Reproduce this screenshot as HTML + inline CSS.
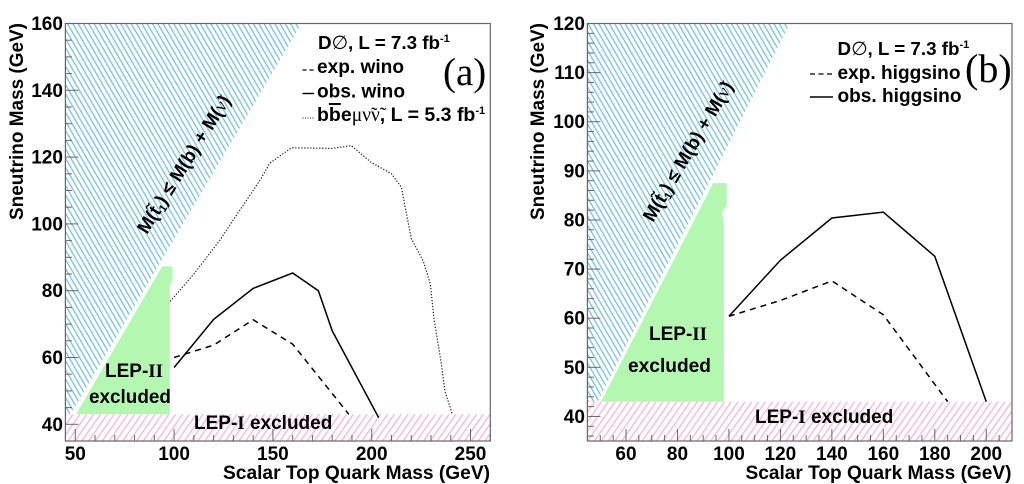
<!DOCTYPE html>
<html lang="en">
<head>
<meta charset="utf-8">
<title>Sneutrino vs scalar top quark mass exclusion limits</title>
<style>
html,body{margin:0;padding:0;background:#fff;width:1024px;height:484px;overflow:hidden}
svg{display:block}
text{font-family:"Liberation Sans",sans-serif;font-weight:bold;fill:#000}
.serif{font-family:"Liberation Serif",serif}
.greek{font-family:"Liberation Serif",serif;font-weight:normal}
</style>
</head>
<body>
<svg id="chart" xmlns="http://www.w3.org/2000/svg" width="1024" height="484" viewBox="0 0 1024 484">
  <defs>
    <pattern id="blue-hatch" patternUnits="userSpaceOnUse" width="4.6" height="10" patternTransform="rotate(-30)">
      <rect x="0" y="0" width="1.25" height="10" fill="#74c0e4"></rect>
    </pattern>
    <pattern id="pink-hatch" patternUnits="userSpaceOnUse" width="5.6" height="10" patternTransform="rotate(35)">
      <rect x="0" y="0" width="1.35" height="10" fill="#fab6dc"></rect>
    </pattern>
  </defs>
  <g id="marks-a"></g>
  <g id="marks-b"></g>

  <!-- Panel (a) text -->
  <text x="223" y="479" font-size="19.5" textLength="267" lengthAdjust="spacingAndGlyphs">Scalar Top Quark Mass (GeV)</text>
  <text transform="translate(23,220) rotate(-90)" font-size="19.5" textLength="197" lengthAdjust="spacingAndGlyphs">Sneutrino Mass (GeV)</text>
  <text x="318" y="49" font-size="18.8">D<tspan class="greek">∅</tspan>, L = 7.3 fb<tspan font-size="11" dy="-7">-1</tspan></text>
  <text x="317" y="73" font-size="19" textLength="87" lengthAdjust="spacingAndGlyphs">exp. wino</text>
  <text x="317" y="97.5" font-size="19" textLength="88" lengthAdjust="spacingAndGlyphs">obs. wino</text>
  <text x="317" y="121" font-size="19.5">b<tspan text-decoration="overline">b</tspan>e<tspan class="greek">μν̃ν̃</tspan>, L = 5.3 fb<tspan font-size="11" dy="-7">-1</tspan></text>
  <text class="serif" style="font-weight:normal" x="443" y="85" font-size="39">(a)</text>
  <text transform="translate(147,235) rotate(-58)" font-size="18.8">M(t̃<tspan font-size="11" dy="3">1</tspan><tspan dy="-3">) ≤ M(b) + M(</tspan><tspan class="greek">ν̃</tspan>)</text>
  <text x="105" y="377" font-size="19">LEP-<tspan class="serif">II</tspan></text>
  <text x="89" y="403" font-size="19" textLength="82" lengthAdjust="spacingAndGlyphs">excluded</text>
  <text x="194" y="429" font-size="19">LEP-<tspan class="serif">I</tspan> excluded</text>

  <!-- Panel (b) text -->
  <text x="745.5" y="479" font-size="19.5" textLength="266" lengthAdjust="spacingAndGlyphs">Scalar Top Quark Mass (GeV)</text>
  <text transform="translate(544,220) rotate(-90)" font-size="19.5" textLength="197" lengthAdjust="spacingAndGlyphs">Sneutrino Mass (GeV)</text>
  <text x="837.5" y="55" font-size="18.8">D<tspan class="greek">∅</tspan>, L = 7.3 fb<tspan font-size="11" dy="-7">-1</tspan></text>
  <text x="837.5" y="79" font-size="19" textLength="123" lengthAdjust="spacingAndGlyphs">exp. higgsino</text>
  <text x="837.5" y="102" font-size="19" textLength="124" lengthAdjust="spacingAndGlyphs">obs. higgsino</text>
  <text class="serif" style="font-weight:normal" x="965" y="82" font-size="40">(b)</text>
  <text transform="translate(653,223) rotate(-59.5)" font-size="18.8">M(t̃<tspan font-size="11" dy="3">1</tspan><tspan dy="-3">) ≤ M(b) + M(</tspan><tspan class="greek">ν̃</tspan>)</text>
  <text x="649" y="340" font-size="19">LEP-<tspan class="serif">II</tspan></text>
  <text x="628" y="372" font-size="19" textLength="83" lengthAdjust="spacingAndGlyphs">excluded</text>
  <text x="755" y="423" font-size="19">LEP-<tspan class="serif">I</tspan> excluded</text>
</svg>

<script>
// Panel (a) data
const aXTicks = [50, 100, 150, 200, 250];
const aXMinor = [50, 60, 70, 80, 90, 100, 110, 120, 130, 140, 150, 160, 170, 180, 190, 200, 210, 220, 230, 240, 250, 260];
const aYTicks = [40, 60, 80, 100, 120, 140, 160];
const aYMinor = [40, 45, 50, 55, 60, 65, 70, 75, 80, 85, 90, 95, 100, 105, 110, 115, 120, 125, 130, 135, 140, 145, 150, 155, 160];
const aObsX = [100, 120, 140, 160, 173, 180, 203.5];
const aObsY = [57, 71.4, 80.7, 85.3, 80, 68, 42];
const aExpX = [100, 120, 140, 160, 188.4];
const aExpY = [60, 63.7, 71.3, 64, 43];
const aDotX = [98, 110, 123, 132, 143.4, 148.5, 159.4, 179.6, 189.7, 199.8, 210, 215, 220, 226, 229.7, 231.4, 235.2, 237, 240.8];
const aDotY = [76.8, 85, 95, 103, 113, 118.2, 122.8, 122.6, 123.4, 118.4, 115, 111, 95.6, 89, 82, 72, 58.2, 50, 43];
const aBlueX = [45, 47.6, 164.5, 45];
const aBlueY = [43, 43, 160, 160];
const aGreenX = [50.4, 94, 99.2, 99.2, 97.8, 97.8];
const aGreenY = [43, 87.3, 87.3, 83, 81.5, 43];

// Panel (b) data
const bXTicks = [60, 80, 100, 120, 140, 160, 180, 200];
const bXMinor = [50, 55, 60, 65, 70, 75, 80, 85, 90, 95, 100, 105, 110, 115, 120, 125, 130, 135, 140, 145, 150, 155, 160, 165, 170, 175, 180, 185, 190, 195, 200, 205];
const bYTicks = [40, 50, 60, 70, 80, 90, 100, 110, 120];
const bYMinor = [36, 38, 40, 42, 44, 46, 48, 50, 52, 54, 56, 58, 60, 62, 64, 66, 68, 70, 72, 74, 76, 78, 80, 82, 84, 86, 88, 90, 92, 94, 96, 98, 100, 102, 104, 106, 108, 110, 112, 114, 116, 118, 120];
const bObsX = [100, 120, 140, 160, 180, 200];
const bObsY = [60.4, 71.8, 80.4, 81.6, 72.6, 43];
const bExpX = [100, 120, 140, 160, 185];
const bExpY = [60.4, 63.6, 67.6, 60.7, 43];
const bBlueX = [45, 49, 123.7, 45];
const bBlueY = [43, 43, 120, 120];
const bGreenX = [50.3, 93.9, 99.1, 99.1, 97.2, 98, 98];
const bGreenY = [43, 87.5, 87.5, 83, 81.5, 79.5, 43];

const SVGNS = 'http://www.w3.org/2000/svg';

function make(tag, parent, attrs) {
  const el = document.createElementNS(SVGNS, tag);
  for (const k in attrs) el.setAttribute(k, attrs[k]);
  parent.appendChild(el);
  return el;
}
function scale(d0, d1, r0, r1) {
  return function (v) { return r0 + (v - d0) * (r1 - r0) / (d1 - d0); };
}
function pts(xs, ys, sx, sy) {
  return xs.map(function (x, i) { return sx(x).toFixed(2) + ',' + sy(ys[i]).toFixed(2); }).join(' ');
}

function drawPanel(id, p, sx, sy) {
  const g = document.getElementById('marks-' + id);

  const blue = make('polygon', g, { points: pts(p.blueX, p.blueY, sx, sy), fill: 'url(#blue-hatch)' });
  
  

  const pink = make('polygon', g, { points: pts([p.xMin, p.xMax, p.xMax, p.xMin], [35, 35, 43, 43], sx, sy), fill: 'url(#pink-hatch)' });
  
  

  const green = make('polygon', g, { points: pts(p.greenX, p.greenY, sx, sy), fill: '#b3f7b1' });
  
  

  const exp = make('polyline', g, { points: pts(p.expX, p.expY, sx, sy), fill: 'none', stroke: '#000', 'stroke-width': 1.5, 'stroke-dasharray': '6 5' });
  
  

  const obs = make('polyline', g, { points: pts(p.obsX, p.obsY, sx, sy), fill: 'none', stroke: '#000', 'stroke-width': 1.5 });
  
  

  if (p.dotX) {
    const dot = make('polyline', g, { points: pts(p.dotX, p.dotY, sx, sy), fill: 'none', stroke: '#222', 'stroke-width': 1.2, 'stroke-dasharray': '1.3 1.7' });
    
    
  }

  const left = sx(p.xMin), right = sx(p.xMax), bottom = sy(35), top = sy(p.yMax);

  p.xMinor.forEach(function (v) {
    const major = p.xTicks.indexOf(v) >= 0;
    const t = make('line', g, { x1: sx(v), x2: sx(v), y1: bottom, y2: bottom - (major ? 12 : 6), stroke: '#666', 'stroke-width': 1 });
    
    
  });
  p.yMinor.forEach(function (v) {
    const major = p.yTicks.indexOf(v) >= 0;
    const t = make('line', g, { x1: left, x2: left + (major ? 13 : 6.5), y1: sy(v), y2: sy(v), stroke: '#666', 'stroke-width': 1 });
    
    
  });

  const frame = make('rect', g, { x: left, y: top, width: right - left, height: bottom - top, fill: 'none', stroke: '#666', 'stroke-width': 1.2 });
  
  

  p.xTicks.forEach(function (v) {
    const t = make('text', g, { x: sx(v), y: 460, 'text-anchor': 'middle', 'font-size': 19 });
    t.textContent = String(v);
    
    
  });
  p.yTicks.forEach(function (v) {
    const t = make('text', g, { x: left - 2.5, y: sy(v) + 6.5, 'text-anchor': 'end', 'font-size': 19 });
    t.textContent = String(v);
    
    
  });

  p.legend.forEach(function (l) {
    const s = make('line', g, { x1: l.x1, x2: l.x2, y1: l.y, y2: l.y, stroke: '#000', 'stroke-width': l.w, 'stroke-dasharray': l.dash });
    
    
  });
}

drawPanel('a', {
  xMin: 45, xMax: 260, yMax: 160,
  xTicks: aXTicks, xMinor: aXMinor, yTicks: aYTicks, yMinor: aYMinor,
  obsX: aObsX, obsY: aObsY, expX: aExpX, expY: aExpY, dotX: aDotX, dotY: aDotY,
  blueX: aBlueX, blueY: aBlueY, greenX: aGreenX, greenY: aGreenY,
  legend: [
    { x1: 302.5, x2: 314, y: 70, w: 1.3, dash: '4 3' },
    { x1: 302.5, x2: 314, y: 93.5, w: 1.4, dash: 'none' },
    { x1: 302.5, x2: 314, y: 118, w: 1, dash: '1 1.5' }
  ]
}, scale(45, 260, 65.4, 490.3), scale(35, 160, 441, 23.5));

drawPanel('b', {
  xMin: 45, xMax: 210, yMax: 120,
  xTicks: bXTicks, xMinor: bXMinor, yTicks: bYTicks, yMinor: bYMinor,
  obsX: bObsX, obsY: bObsY, expX: bExpX, expY: bExpY,
  blueX: bBlueX, blueY: bBlueY, greenX: bGreenX, greenY: bGreenY,
  legend: [
    { x1: 810, x2: 833, y: 74, w: 1.3, dash: '5 3.5' },
    { x1: 810, x2: 833, y: 97, w: 1.4, dash: 'none' }
  ]
}, scale(45, 210, 587.4, 1012), scale(35, 120, 441, 23.5));
</script>
</body>
</html>
